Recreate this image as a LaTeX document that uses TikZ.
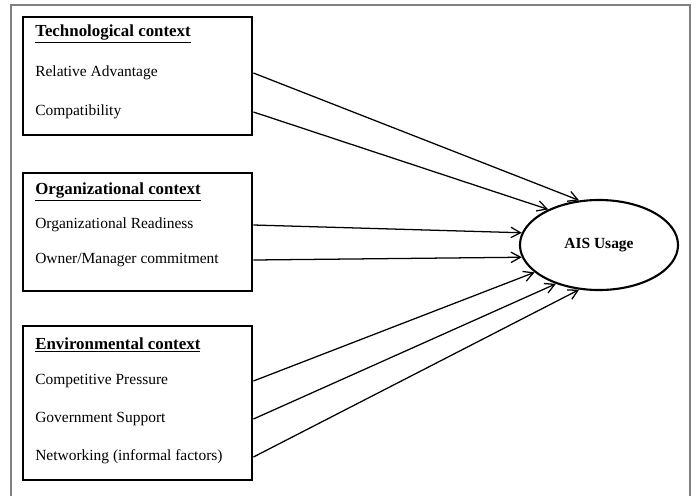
\documentclass[tikz,border=0pt]{standalone}
\usepackage{fontspec}
\setmainfont{Liberation Serif}
\usetikzlibrary{arrows.meta,positioning,shapes.geometric}

\begin{document}
\begin{tikzpicture}[
        x=0.025cm, y=-0.025cm,
        context/.style={
            draw,
            line width=2pt,
            minimum width=5.725cm,
            inner sep=0pt
        },
        heading/.style={
            anchor=west,
            inner sep=0pt,
            font=\fontsize{12}{14}\selectfont\bfseries
        },
        factor/.style={
            anchor=west,
            inner sep=0pt,
            font=\fontsize{11}{13}\selectfont
        },
        usage/.style={
            draw,
            ellipse,
            line width=1.5pt,
            minimum width=3.95cm,
            minimum height=2.25cm,
            font=\fontsize{11}{13}\selectfont\bfseries
        },
        effect/.style={-{Straight Barb[length=2.4mm,width=2.6mm]},
            line width=0.9pt}
    ]
        \useasboundingbox (0,0) rectangle (696,495);
        \draw[gray, line width=1pt] (11,500) -- (11,5) -- (690,5) -- (690,500);

        % Context boxes
        \node[context, minimum height=2.95cm] (tech) at (137.5,76) {};
        \node[context, minimum height=2.95cm] (org) at (137.5,232) {};
        \node[context, minimum height=3.85cm] (env) at (137.5,403) {};

        \node[heading] (techhead) at (35,34) {\underline{Technological context}};
        \node[factor] (ra) at (35,73) {Relative Advantage};
        \node[factor] (comp) at (35,112) {Compatibility};

        \node[heading] (orghead) at (35,192) {\underline{Organizational context}};
        \node[factor] (ready) at (35,225) {Organizational Readiness};
        \node[factor] (owner) at (35,260) {Owner/Manager commitment};

        \node[heading] (envhead) at (35,345) {\underline{Environmental context}};
        \node[factor] (press) at (35,381) {Competitive Pressure};
        \node[factor] (gov) at (35,419) {Government Support};
        \node[factor] (net) at (35,457) {Networking (informal factors)};

        % Dependent construct
        \node[usage] (ais) at (599,245) {AIS Usage};

        \draw[effect] (tech.east |- ra) -- (ais.114);
        \draw[effect] (tech.east |- comp) -- (ais.145);
        \draw[effect] (org.east |- ready) -- (ais.171);
        \draw[effect] (org.east |- owner) -- (ais.189);
        \draw[effect] (env.east |- press) -- (ais.203);
        \draw[effect] (env.east |- gov) -- (ais.222);
        \draw[effect] (env.east |- net) -- (ais.246);
    \end{tikzpicture}
\end{document}
